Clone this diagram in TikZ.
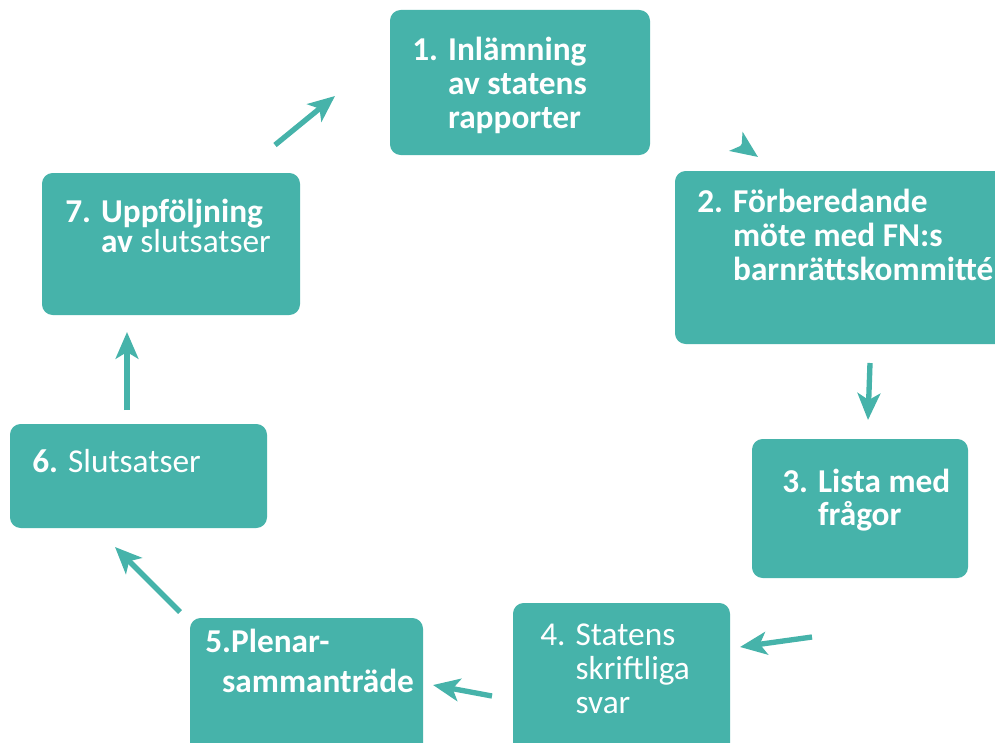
\documentclass[tikz,border=0pt]{standalone}
\usepackage{fontspec}
\setmainfont{Carlito}
\usetikzlibrary{arrows.meta,fit}
\definecolor{boxteal}{RGB}{70,179,170}
\tikzset{
  box/.style={fill=boxteal, draw=none, rounded corners=8pt, inner sep=0pt},
  lbl/.style={text=white, align=left, anchor=base west, inner sep=0pt,
    font=\fontsize{25}{#1}\selectfont},
  lbl/.default=25.5,
  blbl/.style={lbl=#1, font=\fontsize{25}{#1}\selectfont\bfseries},
  blbl/.default=25.5,
  arr/.style={draw=boxteal, line width=4pt,
    -{Stealth[length=20pt,width=17pt,inset=5pt]}}
}
\begin{document}
\begin{tikzpicture}[x=0.75pt,y=-0.75pt]
  \useasboundingbox (0,0) rectangle (995,742);
  % the seven steps
  \node[box, fit={(390,10) (650,155)}] (1) {};
  \node[box, fit={(675,171) (1010,344)}] (2) {};
  \node[box, fit={(752,439) (968,578)}] (3) {};
  \node[box, fit={(513,603) (730,760)}] (4) {};
  \node[box, fit={(190,618) (423,760)}] (5) {};
  \node[box, fit={(10,424) (267,528)}] (6) {};
  \node[box, fit={(42,173) (300,315)}] (7) {};
  % texts (placed at the baseline of their last line)
  \node[blbl] (t1) at (412,128) {1. Inlämning\\\hphantom{1. }av statens\\\hphantom{1. }rapporter};
  \node[blbl] (t2) at (697,280) {2. Förberedande\\\hphantom{2. }möte med FN:s\\\hphantom{2. }barnrättskommitté};
  \node[blbl=24.75] (t3) at (782,525) {3. Lista med\\\hphantom{3. }frågor};
  \node[lbl] (t4) at (540,713) {4. Statens\\\hphantom{4. }skriftliga\\\hphantom{4. }svar};
  \node[blbl=30] (t5) at (205,692) {5.Plenar-\\\hphantom{5}sammanträde};
  \node[lbl] (t6) at (32,472) {\textbf{6.} Slutsatser};
  \node[blbl=22.5] (t7) at (65,252) {7. Uppföljning\\\hphantom{7. }av \mdseries slutsatser};
  % arrows between the boxes
  \coordinate (s1) at (275,145); \coordinate (e1) at (335,96);
  \coordinate (s2) at (741,145); \coordinate (e2) at (758,157);
  \coordinate (s3) at (870,363); \coordinate (e3) at (868,420);
  \coordinate (s4) at (812,637); \coordinate (e4) at (740,647);
  \coordinate (s5) at (492,696); \coordinate (e5) at (433,685);
  \coordinate (s6) at (180,612); \coordinate (e6) at (115,547);
  \coordinate (s7) at (127,410); \coordinate (e7) at (127,332);
  \foreach \i in {1,...,7}
    \draw[arr] (s\i) -- (e\i);
\end{tikzpicture}
\end{document}
